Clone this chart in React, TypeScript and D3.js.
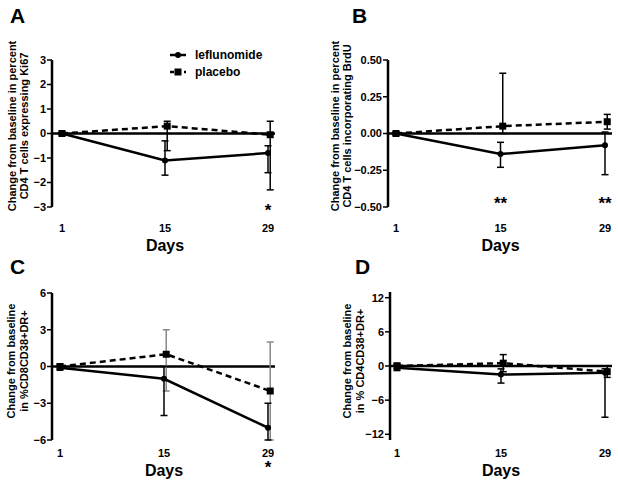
import * as d3 from "d3";
import { useRef, useEffect } from "react";

const days = [1, 15, 29];

// A: Ki67
const kiLef = [0, -1.1, -0.8];
const kiLefLo = [-0.05, -1.7, -1.6];
const kiLefHi = [0.05, -0.3, -0.5];
const kiPbo = [0, 0.3, -0.05];
const kiPboLo = [-0.05, -0.7, -2.3];
const kiPboHi = [0.05, 0.5, 0.5];

// B: BrdU
const brLef = [0, -0.14, -0.08];
const brLefLo = [-0.01, -0.23, -0.28];
const brLefHi = [0.01, -0.06, 0.01];
const brPbo = [0, 0.05, 0.08];
const brPboLo = [-0.01, 0.0, 0.03];
const brPboHi = [0.01, 0.41, 0.13];

// C: CD8CD38+DR+
const c8Lef = [-0.1, -1, -5];
const c8LefLo = [-0.3, -4, -6];
const c8LefHi = [0.1, 0, -3];
const c8Pbo = [0, 1, -2];
const c8PboLo = [-0.2, -2, -6];
const c8PboHi = [0.2, 3, 2];

// D: CD4CD38+DR+
const c4Lef = [-0.3, -1.5, -1.2];
const c4LefLo = [-0.8, -3, -9];
const c4LefHi = [0.2, -0.5, -0.5];
const c4Pbo = [0, 0.5, -1];
const c4PboLo = [-0.5, -1, -2];
const c4PboHi = [0.5, 2, 0];

const panels = [
  {
    letter: "A", lx: 10, ly: 23,
    axisX: 52, x0: 62, x1: 268, lineEnd: 275,
    yDomain: [-3, 3], yTop: 60, yBot: 207, ticks: [-3, -2, -1, 0, 1, 2, 3], fmt: d3.format("d"),
    labels: ["Change from baseline in percent", "CD4 T cells expressing Ki67"], labX: [12, 24], labY: 126,
    tickY: 232, daysY: 251,
    lef: [kiLef, kiLefLo, kiLefHi], pbo: [kiPbo, kiPboLo, kiPboHi], pboBar: "#000",
    stars: [{ day: 29, text: "*", y: 216 }],
  },
  {
    letter: "B", lx: 352, ly: 23,
    axisX: 388, x0: 396, x1: 605, lineEnd: 612,
    yDomain: [-0.5, 0.5], yTop: 60, yBot: 207, ticks: [-0.5, -0.25, 0, 0.25, 0.5], fmt: d3.format(".2f"),
    labels: ["Change from baseline in percent", "CD4 T cells incorporating BrdU"], labX: [335, 347], labY: 126,
    tickY: 232, daysY: 251,
    lef: [brLef, brLefLo, brLefHi], pbo: [brPbo, brPboLo, brPboHi], pboBar: "#000",
    stars: [{ day: 15, text: "**", y: 209 }, { day: 29, text: "**", y: 209 }],
  },
  {
    letter: "C", lx: 10, ly: 274,
    axisX: 52, x0: 60, x1: 268, lineEnd: 275,
    yDomain: [-6, 6], yTop: 293, yBot: 440, ticks: [-6, -3, 0, 3, 6], fmt: d3.format("d"),
    labels: ["Change from baseline", "in %CD8CD38+DR+"], labX: [11, 24], labY: 361,
    tickY: 457, daysY: 476,
    lef: [c8Lef, c8LefLo, c8LefHi], pbo: [c8Pbo, c8PboLo, c8PboHi], pboBar: "#888",
    stars: [{ day: 29, text: "*", y: 473 }],
  },
  {
    letter: "D", lx: 355, ly: 274,
    axisX: 390, x0: 397, x1: 605, lineEnd: 612,
    yDomain: [-13, 13], yTop: 292, yBot: 440, ticks: [-12, -6, 0, 6, 12], fmt: d3.format("d"),
    labels: ["Change from baseline", "in % CD4CD38+DR+"], labX: [347, 360], labY: 361,
    tickY: 457, daysY: 476,
    lef: [c4Lef, c4LefLo, c4LefHi], pbo: [c4Pbo, c4PboLo, c4PboHi], pboBar: "#000",
    stars: [],
  },
];

const font = "'Liberation Sans', Arial, sans-serif";

function Chart() {
  const ref = useRef<SVGSVGElement>(null);

  useEffect(() => {
    const svg = d3.select(ref.current);
    svg.selectAll("*").remove();
    svg.style("font-family", font).style("font-weight", "bold");

    panels.forEach((p) => {
      const g = svg.append("g");
      const x = d3.scaleLinear().domain([1, 29]).range([p.x0, p.x1]);
      const y = d3.scaleLinear().domain(p.yDomain).range([p.yBot, p.yTop]);

      g.append("text").attr("x", p.lx).attr("y", p.ly).attr("font-size", 21).text(p.letter);

      // y axis
      g.append("line")
        .attr("x1", p.axisX).attr("x2", p.axisX)
        .attr("y1", p.yTop).attr("y2", p.yBot)
        .attr("stroke", "#000").attr("stroke-width", 2.5);
      p.ticks.forEach((t) => {
        g.append("line")
          .attr("x1", p.axisX - 5).attr("x2", p.axisX)
          .attr("y1", y(t)).attr("y2", y(t))
          .attr("stroke", "#000").attr("stroke-width", 1.5);
        g.append("text")
          .attr("x", p.axisX - 6).attr("y", y(t)).attr("dy", "0.35em")
          .attr("text-anchor", "end").attr("font-size", 11)
          .text(p.fmt(t));
      });

      // zero line
      g.append("line")
        .attr("x1", p.axisX).attr("x2", p.lineEnd)
        .attr("y1", y(0)).attr("y2", y(0))
        .attr("stroke", "#000").attr("stroke-width", 2.5);

      // y labels
      p.labels.forEach((l, i) => {
        g.append("text")
          .attr("transform", `translate(${p.labX[i]},${p.labY}) rotate(-90)`)
          .attr("dy", "0.35em").attr("text-anchor", "middle").attr("font-size", 11)
          .text(l);
      });

      // x tick labels
      days.forEach((d) => {
        g.append("text").attr("x", x(d)).attr("y", p.tickY)
          .attr("text-anchor", "middle").attr("font-size", 11).text(d);
      });
      g.append("text").attr("x", x(15)).attr("y", p.daysY)
        .attr("text-anchor", "middle").attr("font-size", 16).text("Days");

      const series = [
        { vals: p.pbo, off: 0.3, dash: "6,4", bar: p.pboBar, square: true },
        { vals: p.lef, off: 0, dash: null, bar: "#000", square: false },
      ];
      series.forEach((s) => {
        const [mean, lo, hi] = s.vals;
        days.forEach((d, i) => {
          const cx = x(d + (i === 0 ? 0 : s.off));
          g.append("line").attr("x1", cx).attr("x2", cx)
            .attr("y1", y(lo[i])).attr("y2", y(hi[i]))
            .attr("stroke", s.bar).attr("stroke-width", 1.5);
          [lo[i], hi[i]].forEach((v) => {
            g.append("line").attr("x1", cx - 3.5).attr("x2", cx + 3.5)
              .attr("y1", y(v)).attr("y2", y(v))
              .attr("stroke", s.bar).attr("stroke-width", 1.5);
          });
        });
        const line = d3.line<number>()
          .x((_, i) => x(days[i] + (i === 0 ? 0 : s.off)))
          .y((v) => y(v));
        g.append("path").attr("d", line(mean))
          .attr("fill", "none").attr("stroke", "#000").attr("stroke-width", 2.5)
          .attr("stroke-dasharray", s.dash);
        mean.forEach((v, i) => {
          const cx = x(days[i] + (i === 0 ? 0 : s.off));
          if (s.square) {
            g.append("rect").attr("x", cx - 3.5).attr("y", y(v) - 3.5)
              .attr("width", 7).attr("height", 7).attr("fill", "#000");
          } else {
            g.append("circle").attr("cx", cx).attr("cy", y(v)).attr("r", 3).attr("fill", "#000");
          }
        });
      });

      p.stars.forEach((st) => {
        g.append("text").attr("x", x(st.day)).attr("y", st.y)
          .attr("text-anchor", "middle").attr("font-size", 17).text(st.text);
      });
    });

    // legend in panel A
    const leg = svg.append("g");
    const items = [
      { name: "leflunomide", y: 55, dash: null, square: false },
      { name: "placebo", y: 72, dash: "4,3", square: true },
    ];
    items.forEach((it) => {
      leg.append("line").attr("x1", 170).attr("x2", 186).attr("y1", it.y).attr("y2", it.y)
        .attr("stroke", "#000").attr("stroke-width", 2.5).attr("stroke-dasharray", it.dash);
      if (it.square) {
        leg.append("rect").attr("x", 174.5).attr("y", it.y - 3.5).attr("width", 7).attr("height", 7);
      } else {
        leg.append("circle").attr("cx", 178).attr("cy", it.y).attr("r", 3);
      }
      leg.append("text").attr("x", 195).attr("y", it.y).attr("dy", "0.35em")
        .attr("font-size", 12).text(it.name);
    });
  }, []);

  return <svg ref={ref} width={618} height={483} style={{ display: "block" }}></svg>;
}

export default function App() {
  return (
    <div style={{ position: "absolute", top: 0, left: 0, width: 618, height: 483, overflow: "hidden" }}>
      <Chart />
    </div>
  );
}
